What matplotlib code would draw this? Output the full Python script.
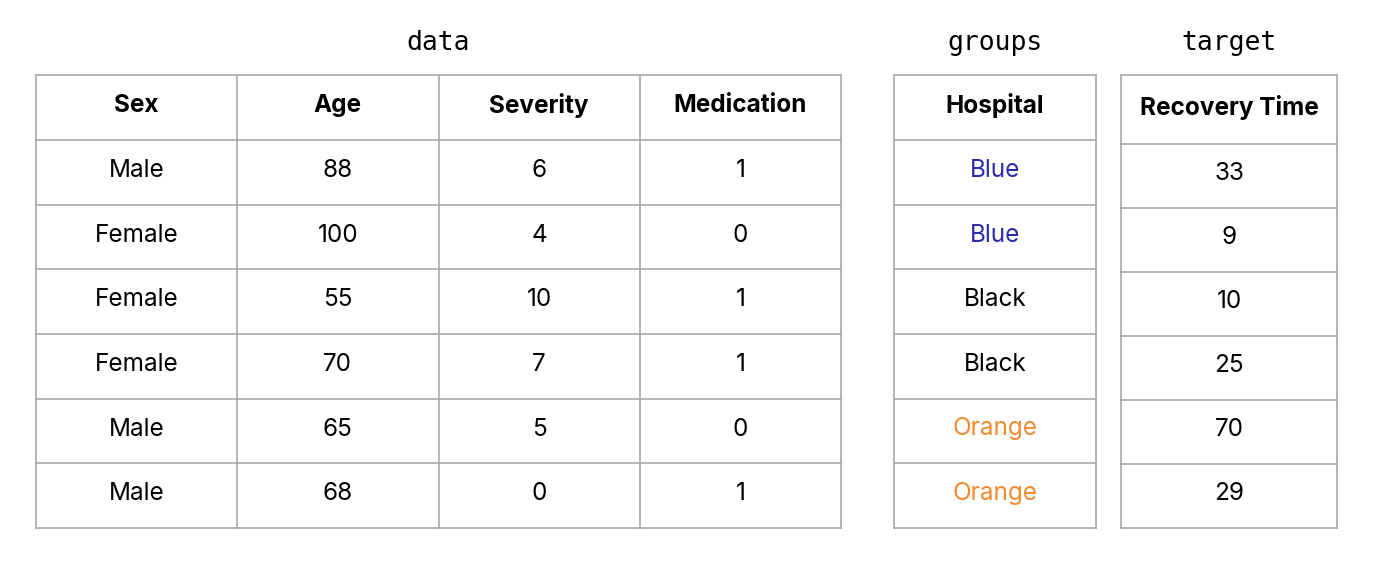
import matplotlib
matplotlib.use("Agg")
import matplotlib.pyplot as plt

data_cols = ["Sex", "Age", "Severity", "Medication"]
sex = ["Male", "Female", "Female", "Female", "Male", "Male"]
age = [88, 100, 55, 70, 65, 68]
severity = [6, 4, 10, 7, 5, 0]
medication = [1, 0, 1, 1, 0, 1]
hospital = ["Blue", "Blue", "Black", "Black", "Orange", "Orange"]
recovery = [33, 9, 10, 25, 70, 29]
hosp_colors = {"Blue": "#2a2aaa", "Black": "#000000", "Orange": "#f28a2e"}

W, H = 1373, 564
fig = plt.figure(figsize=(W/100, H/100), dpi=100)
ax = fig.add_axes([0, 0, 1, 1])
ax.set_xlim(0, W); ax.set_ylim(H, 0); ax.axis("off")
LC = "#a8a8a8"
FS = 17.5

def table(x0, x1, y0, yh, y1, headers, cols, colors=None):
    n = len(headers)
    nrows = len(cols[0])
    cw = (x1 - x0) / n
    rh = (y1 - yh) / nrows
    ys = [y0, yh] + [yh + rh*(i+1) for i in range(nrows)]
    for y in ys:
        ax.plot([x0, x1], [y, y], color=LC, lw=1.2)
    for j in range(n+1):
        ax.plot([x0+cw*j]*2, [y0, y1], color=LC, lw=1.2)
    for j, h in enumerate(headers):
        ax.text(x0+cw*(j+.5), (y0+yh)/2 - 2, h, ha="center", va="center",
                fontsize=FS, fontweight="bold", family="Inter")
        for i, v in enumerate(cols[j]):
            c = colors(v) if colors else "black"
            ax.text(x0+cw*(j+.5), ys[i+1]+rh/2 - 2, str(v), ha="center", va="center",
                    fontsize=FS, family="Inter", color=c)

table(36, 841, 75, 140, 528, data_cols, [sex, age, severity, medication])
table(894, 1096, 75, 140, 528, ["Hospital"], [hospital], lambda v: hosp_colors[v])
table(1121, 1337, 75, 144, 528, ["Recovery Time"], [recovery])

for x, t in [(438, "data"), (995, "groups"), (1229, "target")]:
    ax.text(x, 43, t, ha="center", va="center", fontsize=19, family="DejaVu Sans Mono")

fig.savefig("out.png", dpi=100)
